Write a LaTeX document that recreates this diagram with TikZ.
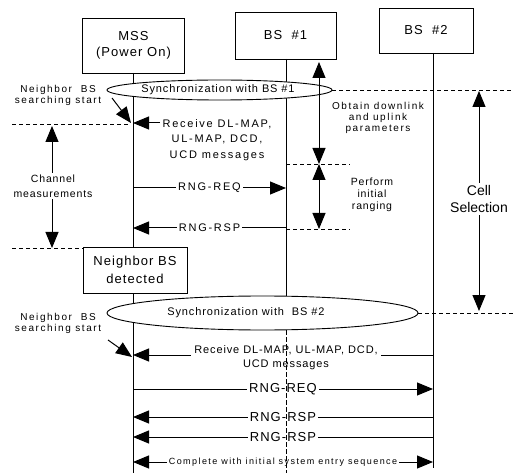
\documentclass[tikz,border=0pt]{standalone}
\usepackage{fontspec}
\setmainfont{Liberation Sans}
\newfontfamily\spc[LetterSpace=8]{Liberation Sans}
\newfontfamily\spcb[LetterSpace=16]{Liberation Sans}
\usetikzlibrary{arrows.meta,shapes.geometric}
\begin{document}
\begin{tikzpicture}[x=1pt,y=-1pt,
  every node/.style={inner sep=1pt},
  box/.style={draw, line width=0.9pt, fill=white, align=center},
  life/.style={line width=0.9pt},
  msg/.style={line width=1pt, -{Triangle[length=16pt,width=13pt]}},
  dmsg/.style={line width=1pt, {Triangle[length=16pt,width=13pt]}-{Triangle[length=16pt,width=13pt]}},
  dline/.style={line width=0.8pt, dash pattern=on 4pt off 3pt},
  sync/.style={ellipse, draw, line width=0.9pt, fill=white, inner sep=0pt},
  lbl/.style={fill=white, align=center, inner sep=2pt},
  ta/.style={font=\spcb\fontsize{10}{11}\selectfont, align=center},
  tb/.style={font=\spcb\fontsize{11}{15.5}\selectfont, align=center},
  tc/.style={font=\spc\fontsize{13}{16}\selectfont, align=center},
  td/.style={font=\spcb\fontsize{9}{11}\selectfont, align=center}
]
\useasboundingbox (0,0) rectangle (514,473);

% boxes
\node[box, minimum width=102pt, minimum height=55pt, font=\spc\fontsize{13}{16}\selectfont] (mss) at (133.5,45.5) {MSS\\(Power\ On)};
\node[box, minimum width=101pt, minimum height=47pt, font=\spc\fontsize{13}{16}\selectfont] (bs1) at (285.5,35.5) {BS\ \ \#1};
\node[box, minimum width=94pt, minimum height=45pt, font=\spc\fontsize{13}{16}\selectfont] (bs2) at (426,30.5) {BS\ \ \#2};

% lifeline coordinates
\coordinate (m0) at (133,73);
\coordinate (m1) at (133,473);
\coordinate (b10) at (286,59);
\coordinate (b11) at (286,296);
\coordinate (b12) at (286,330);
\coordinate (b13) at (286,473);
\coordinate (b20) at (433,53);
\coordinate (b21) at (433,468);

\draw[life] (m0) -- (m1);
\draw[life] (b10) -- (b11);
\draw[life] (b20) -- (b21);

% sync ellipses
\node[sync, minimum width=225pt, minimum height=20pt] (sync1) at (219.5,90) {};
\node[font=\spc\fontsize{11}{13}\selectfont] (sync1t) at (218,90) {Synchronization with BS \#1};
\node[sync, minimum width=311pt, minimum height=34pt] (sync2) at (262.5,313) {};
\node[font=\spc\fontsize{11}{13}\selectfont] (sync2t) at (246,313) {Synchronization with\ \ BS \#2};

% dashed horizontal lines
\coordinate (e1) at (514,90);
\draw[dline] (sync1.east) -- (e1);
\coordinate (e2) at (514,313);
\draw[dline] (sync2.east) -- (e2);
\coordinate (d1a) at (12,124);
\coordinate (d1b) at (130,124);
\draw[dline] (d1a) -- (d1b);
\coordinate (d2a) at (286,164);
\coordinate (d2b) at (350,164);
\draw[dline] (d2a) -- (d2b);
\coordinate (d3a) at (286,229);
\coordinate (d3b) at (350,229);
\draw[dline] (d3a) -- (d3b);
\coordinate (d4a) at (12,248);
\coordinate (d4b) at (83,248);
\draw[dline] (d4a) -- (d4b);

% neighbor detected box
\node[box, minimum width=104pt, minimum height=46pt, font=\spc\fontsize{13}{18}\selectfont] (nbd) at (135,270) {Neighbor\ BS\\detected};

% left labels
\node[ta] (ns1) at (58,95) {Neighbor\ \ BS\\searching start};
\coordinate (ns1a) at (112,98);
\coordinate (ns1b) at (131,123);
\draw[msg] (ns1a) -- (ns1b);
\node[ta] (ns2) at (58,323) {Neighbor\ \ BS\\searching start};
\coordinate (ns2a) at (108,340);
\coordinate (ns2b) at (132,357);
\draw[msg] (ns2a) -- (ns2b);

% channel measurements
\coordinate (ch0) at (52,126);
\coordinate (ch1) at (52,248);
\draw[dmsg] (ch0) -- (ch1);
\node[lbl, font=\spc\fontsize{10.5}{15}\selectfont] (cht) at (53,186) {Channel\\measurements};

% cell selection
\coordinate (cs0) at (479,91);
\coordinate (cs1) at (479,311);
\draw[dmsg] (cs0) -- (cs1);
\node[lbl, font=\fontsize{14}{17}\selectfont] (cst) at (479,199) {Cell\\Selection};

% obtain / perform
\coordinate (ob0) at (319,62);
\coordinate (ob1) at (319,164);
\draw[dmsg] (ob0) -- (ob1);
\node[ta] (obt) at (378,118) {Obtain\ downlink\\and uplink\\parameters};
\coordinate (pf1) at (319,229);
\draw[dmsg] (ob1) -- (pf1);
\node[ta, font=\spc\fontsize{10.5}{12}\selectfont] (pft) at (372,195) {Perform\\initial\\ranging};

% first messages
\coordinate (r1a) at (160,123);
\coordinate (r1b) at (133,123);
\draw[msg] (r1a) -- (r1b);
\node[tb] (r1t) at (217,140) {Receive DL-MAP,\\UL-MAP, DCD,\\UCD messages};

\coordinate (q1a) at (133,188);
\coordinate (q1b) at (286,188);
\draw[msg] (q1a) -- (q1b) node[midway, lbl, tb] (q1t) {RNG-REQ};
\coordinate (s1a) at (286,228);
\coordinate (s1b) at (133,228);
\draw[msg] (s1a) -- (s1b) node[midway, lbl, tb] (s1t) {RNG-RSP};

% second messages
\coordinate (r2a) at (433,355);
\coordinate (r2b) at (133,355);
\draw[msg] (r2a) -- (r2b);
\node[lbl, font=\spc\fontsize{11}{14}\selectfont, align=center, inner sep=3pt] (r2t) at (286,358) {Receive DL-MAP, UL-MAP, DCD,\\UCD messages};

\coordinate (q2a) at (133,389);
\coordinate (q2b) at (433,389);
\draw[msg] (q2a) -- (q2b) node[midway, lbl, tc] (q2t) {RNG-REQ};
\coordinate (s2a) at (433,417);
\coordinate (s2b) at (133,417);
\draw[msg] (s2a) -- (s2b) node[midway, lbl, tc] (s2t) {RNG-RSP};
\coordinate (s3a) at (433,437);
\coordinate (s3b) at (133,437);
\draw[msg] (s3a) -- (s3b) node[midway, lbl, tc] (s3t) {RNG-RSP};
\coordinate (c1a) at (133,462);
\coordinate (c1b) at (433,462);
\draw[dmsg] (c1a) -- (c1b) node[midway, lbl, td] (c1t) {Complete with initial system entry sequence};

% lower BS#1 lifeline, dashed, drawn over the labels as in the reference
\draw[line width=0.7pt, dash pattern=on 5pt off 2pt] (b12) -- (b13);
\end{tikzpicture}
\end{document}
